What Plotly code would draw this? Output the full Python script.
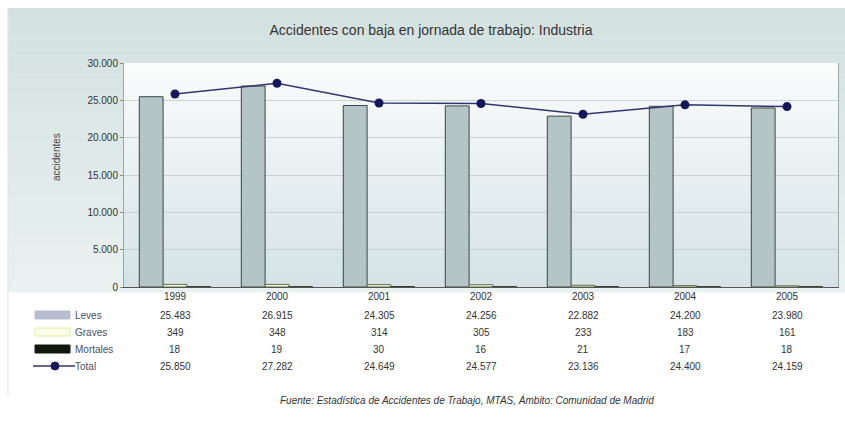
import plotly.graph_objects as go

# Accidentes con baja en jornada de trabajo, sector Industria (Comunidad de Madrid)
years = ["1999", "2000", "2001", "2002", "2003", "2004", "2005"]
leves = [25483, 26915, 24305, 24256, 22882, 24200, 23980]
graves = [349, 348, 314, 305, 233, 183, 161]
mortales = [18, 19, 30, 16, 21, 17, 18]
total = [25850, 27282, 24649, 24577, 23136, 24400, 24159]
row_names = ["Leves", "Graves", "Mortales", "Total"]

W, H = 845, 422
PL, PR, PT, PB = 124, 838, 63, 287   # plot area in pixels
FONT = "Liberation Sans Narrow, Liberation Sans, Arial, sans-serif"


def px_x(px):
    return (px - PL) / (PR - PL)


def px_y(py):
    return (PB - py) / (PB - PT)


def fmt(v):
    return f"{v:,}".replace(",", ".")


def blend(c1, c2, t):
    a = [int(c1[i:i + 2], 16) for i in (1, 3, 5)]
    b = [int(c2[i:i + 2], 16) for i in (1, 3, 5)]
    return "#" + "".join(f"{round(a[k] + (b[k] - a[k]) * t):02x}" for k in range(3))


fig = go.Figure()

fig.add_trace(go.Bar(x=years, y=leves, name="Leves",
                     marker=dict(color="#b5c5c5", line=dict(color="#3a4646", width=1))))
fig.add_trace(go.Bar(x=years, y=graves, name="Graves",
                     marker=dict(color="#f2f8d6", line=dict(color="#5f6d4c", width=1))))
fig.add_trace(go.Bar(x=years, y=mortales, name="Mortales",
                     marker=dict(color="#1c2a14", line=dict(color="#1c2a14", width=1))))
fig.add_trace(go.Scatter(x=years, y=total, name="Total", mode="lines+markers",
                         line=dict(color="#34346e", width=1.5),
                         marker=dict(symbol="circle", size=9, color="#16165c")))

shapes = []

# outer panel: teal band fading downwards
n = 30
top, bot = 8, 292
for i in range(n):
    y0 = top + (bot - top) * i / n
    y1 = top + (bot - top) * (i + 1) / n + 0.5
    shapes.append(dict(type="rect", xref="paper", yref="paper", layer="below",
                       x0=px_x(8), x1=px_x(845), y0=px_y(y1), y1=px_y(y0),
                       fillcolor=blend("#d3e1e1", "#eaf1f1", i / (n - 1)),
                       line=dict(width=0)))
# light frame line on the left of the chart block
shapes.append(dict(type="line", xref="paper", yref="paper", layer="below",
                   x0=px_x(8), x1=px_x(8), y0=px_y(8), y1=px_y(395),
                   line=dict(color="#dfe6e6", width=1)))

# plot area: white at the top to pale blue-grey at the bottom
m = 28
for i in range(m):
    y0 = PT + (PB - PT) * i / m
    y1 = PT + (PB - PT) * (i + 1) / m + 0.5
    shapes.append(dict(type="rect", xref="paper", yref="paper", layer="below",
                       x0=0, x1=1, y0=px_y(y1), y1=px_y(y0),
                       fillcolor=blend("#fafcfc", "#d5e3e7", i / (m - 1)),
                       line=dict(width=0)))

# data-table legend keys
row_py = [315, 332, 349, 366]
key_x0, key_x1 = px_x(35), px_x(70)
swatches = [("#b9bdd2", "#b9bdd2"), ("#fbfde9", "#dcef9c"), ("#10180c", "#10180c")]
for (fill, edge), py in zip(swatches, row_py[:3]):
    shapes.append(dict(type="rect", xref="paper", yref="paper",
                       x0=key_x0, x1=key_x1, y0=px_y(py + 4), y1=px_y(py - 4),
                       fillcolor=fill, line=dict(color=edge, width=1)))
shapes.append(dict(type="line", xref="paper", yref="paper",
                   x0=px_x(33), x1=px_x(75), y0=px_y(row_py[3]), y1=px_y(row_py[3]),
                   line=dict(color="#34346e", width=1.5)))
shapes.append(dict(type="circle", xref="paper", yref="paper",
                   x0=px_x(51), x1=px_x(59), y0=px_y(row_py[3] + 4), y1=px_y(row_py[3] - 4),
                   fillcolor="#16165c", line=dict(color="#16165c", width=1)))

annotations = []
for name, py in zip(row_names, row_py):
    annotations.append(dict(text=name, xref="paper", yref="paper", x=px_x(73), y=px_y(py),
                            xanchor="left", yanchor="middle", showarrow=False,
                            font=dict(family=FONT, size=10, color="#4a4f66")))
# table values, one column per category (category axis uses serial positions)
for series, py in zip([leves, graves, mortales, total], row_py):
    for i, v in enumerate(series):
        annotations.append(dict(text=fmt(v), xref="x", yref="paper", x=i, y=px_y(py),
                                xanchor="center", yanchor="middle", showarrow=False,
                                font=dict(family=FONT, size=10, color="#333333")))

# y-axis title
annotations.append(dict(text="accidentes", xref="paper", yref="paper", x=px_x(56), y=px_y(157),
                        textangle=-90, xanchor="center", yanchor="middle", showarrow=False,
                        font=dict(family=FONT, size=10, color="#444444")))
# source note
annotations.append(dict(text="<i>Fuente: Estadística de Accidentes de Trabajo, MTAS, Ámbito: Comunidad de Madrid</i>",
                        xref="paper", yref="paper", x=px_x(467), y=px_y(400),
                        xanchor="center", yanchor="middle", showarrow=False,
                        font=dict(family="Liberation Sans, Arial, sans-serif", size=10, color="#333333")))

fig.update_layout(
    width=W, height=H,
    margin=dict(l=PL, r=W - PR, t=PT, b=H - PB, pad=0),
    paper_bgcolor="white", plot_bgcolor="rgba(0,0,0,0)",
    barmode="group", bargap=0.3, bargroupgap=0,
    showlegend=False,
    separators=",.",
    title=dict(text="Accidentes con baja en jornada de trabajo: Industria",
               x=(431 / W), xanchor="center", y=1 - 30 / H, yanchor="middle",
               font=dict(family=FONT, size=14, color="#333333")),
    xaxis=dict(type="category", range=[-0.5, 6.5], showgrid=False,
               showline=True, linecolor="#555555", linewidth=1,
               ticks="", tickfont=dict(family=FONT, size=10, color="#333333")),
    yaxis=dict(range=[0, 30000], dtick=5000, tickformat=",d",
               showgrid=True, gridcolor="#c9d3d3", gridwidth=1,
               showline=True, linecolor="#9aa5a5", linewidth=1, mirror=True,
               zeroline=False, ticks="outside", ticklen=3, tickcolor="#888888",
               tickfont=dict(family=FONT, size=10, color="#333333")),
    shapes=shapes,
    annotations=annotations,
)

fig.write_html("out.html")
